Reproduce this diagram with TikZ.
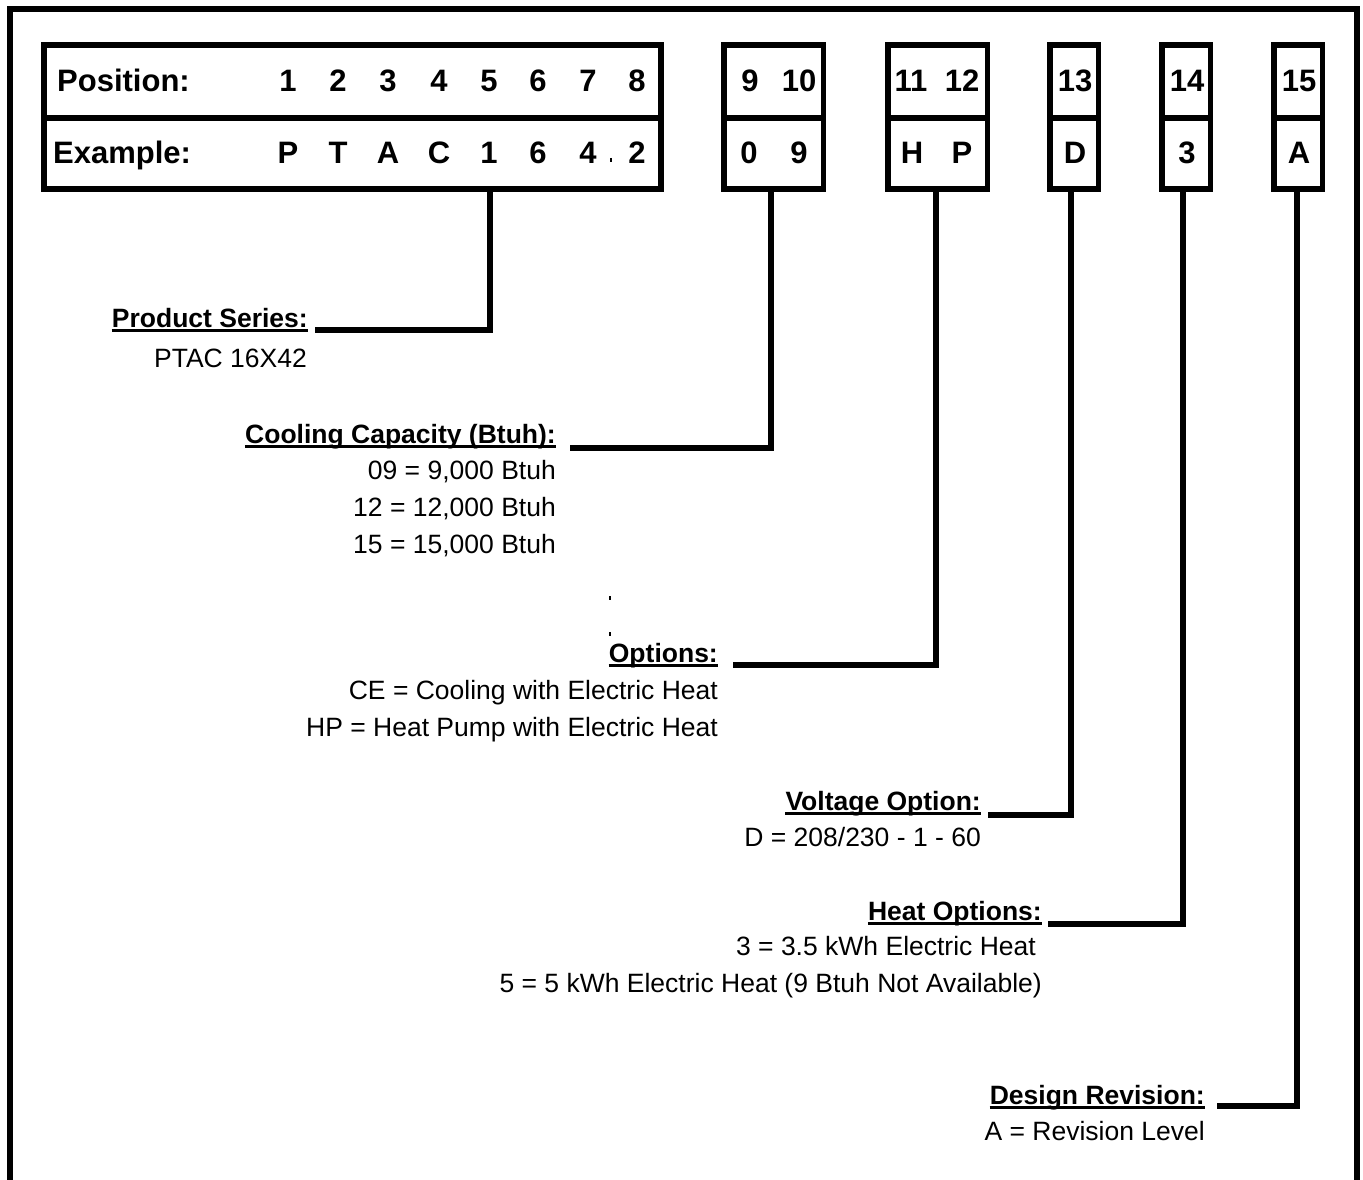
\documentclass[tikz,border=0pt]{standalone}
\usepackage{fontspec}
\setmainfont{Liberation Sans}
\begin{document}
\begin{tikzpicture}[x=1pt,y=-1pt,
  frame/.style={line width=5.5pt, line join=miter},
  cell/.style={draw, line width=5.5pt, inner sep=0pt, anchor=center, rectangle},
  big/.style={inner sep=0pt, font=\fontsize{31}{34}\selectfont\bfseries},
  lab/.style={inner sep=0pt, anchor=base east, font=\fontsize{26.5}{30}\selectfont\bfseries},
  sub/.style={inner sep=0pt, anchor=base east, font=\fontsize{26.5}{30}\selectfont},
  conn/.style={line width=5.5pt, line join=miter},
  ul/.style={line width=2.4pt},
  speck/.style={line width=1.6pt}]
\useasboundingbox (0,0) rectangle (1363,1180);
\fill[white] (0,0) rectangle (1363,1180);
\clip (0,0) rectangle (1363,1180);
% outer frame
\draw[frame] (10,1200) -- (10,9) -- (1357,9) -- (1357,1200);
% code boxes
\node[cell, minimum width=617pt, minimum height=73pt] (b1t) at (352.5,81.5) {};
\node[cell, minimum width=617pt, minimum height=71pt] (b1b) at (352.5,153.5) {};
\node[cell, minimum width=99.5pt, minimum height=73pt] (b2t) at (773.75,81.5) {};
\node[cell, minimum width=99.5pt, minimum height=71pt] (b2b) at (773.75,153.5) {};
\node[cell, minimum width=99.5pt, minimum height=73pt] (b3t) at (937.75,81.5) {};
\node[cell, minimum width=99.5pt, minimum height=71pt] (b3b) at (937.75,153.5) {};
\node[cell, minimum width=48.5pt, minimum height=73pt] (b4t) at (1074.25,81.5) {};
\node[cell, minimum width=48.5pt, minimum height=71pt] (b4b) at (1074.25,153.5) {};
\node[cell, minimum width=48.5pt, minimum height=73pt] (b5t) at (1186.25,81.5) {};
\node[cell, minimum width=48.5pt, minimum height=71pt] (b5b) at (1186.25,153.5) {};
\node[cell, minimum width=48.5pt, minimum height=73pt] (b6t) at (1298.25,81.5) {};
\node[cell, minimum width=48.5pt, minimum height=71pt] (b6b) at (1298.25,153.5) {};
% box texts
\node[big, anchor=base west] (pos) at (57,92) {Position:};
\node[big, anchor=base west] (ex) at (53,164) {Example:};
\foreach \t/\x [count=\i] in {1/288,2/338,3/388,4/439,5/489,6/538,7/588,8/637}
  \node[big, anchor=base] (p\i) at (\x,92) {\t};
\foreach \t/\x [count=\i] in {P/288,T/338,A/388,C/439,1/489,6/538,4/588,2/637}
  \node[big, anchor=base] (x\i) at (\x,164) {\t};
\node[big, anchor=base] (p9) at (750,92) {9};
\node[big, anchor=base] (p10) at (799,92) {10};
\node[big, anchor=base] (x9) at (749,164) {0};
\node[big, anchor=base] (x10) at (799,164) {9};
\node[big, anchor=base] (p11) at (911,92) {11};
\node[big, anchor=base] (p12) at (962,92) {12};
\node[big, anchor=base] (x11) at (912,164) {H};
\node[big, anchor=base] (x12) at (962,164) {P};
\node[big, anchor=base] (p13) at (1075,92) {13};
\node[big, anchor=base] (x13) at (1075,164) {D};
\node[big, anchor=base] (p14) at (1187,92) {14};
\node[big, anchor=base] (x14) at (1187,164) {3};
\node[big, anchor=base] (p15) at (1299,92) {15};
\node[big, anchor=base] (x15) at (1299,164) {A};
% small specks
\draw[speck] (611,158) -- (611,162);
\draw[speck] (610,596) -- (610,600);
\draw[speck] (610,632) -- (610,636);
% labels
\node[lab] (l1) at (308,327) {Product Series:};
\node[sub] (s11) at (307,367) {PTAC 16X42};
\node[lab] (l2) at (556,443) {Cooling Capacity (Btuh):};
\node[sub] (s21) at (556,479) {09 = 9,000 Btuh};
\node[sub] (s22) at (556,516) {12 = 12,000 Btuh};
\node[sub] (s23) at (556,553) {15 = 15,000 Btuh};
\node[lab] (l3) at (718,662) {Options:};
\node[sub] (s31) at (718,699) {CE = Cooling with Electric Heat};
\node[sub] (s32) at (718,736) {HP = Heat Pump with Electric Heat};
\node[lab] (l4) at (981,810) {Voltage Option:};
\node[sub] (s41) at (981,846) {D = 208/230 - 1 - 60};
\node[lab] (l5) at (1042,920) {Heat Options:};
\node[sub] (s51) at (1036,955) {3 = 3.5 kWh Electric Heat};
\node[sub] (s52) at (1042,992) {5 = 5 kWh Electric Heat (9 Btuh Not Available)};
\node[lab] (l6) at (1205,1104) {Design Revision:};
\node[sub] (s61) at (1205,1140) {A = Revision Level};
% underlines
\foreach \n in {l1,l2,l3,l4,l5,l6}
  \draw[ul] ([yshift=-3.5pt]\n.base west) -- ([yshift=-3.5pt]\n.base east);
% connectors
\coordinate (j1) at (490,330);  \coordinate (e1) at (315,330);
\coordinate (j2) at (771,448);  \coordinate (e2) at (570,448);
\coordinate (j3) at (936,665);  \coordinate (e3) at (733,665);
\coordinate (j4) at (1071,815); \coordinate (e4) at (988,815);
\coordinate (j5) at (1183,924); \coordinate (e5) at (1048,924);
\coordinate (j6) at (1297,1106); \coordinate (e6) at (1217,1106);
\draw[conn] (b1b.south -| j1) -- (j1) -- (e1);
\draw[conn] (b2b.south -| j2) -- (j2) -- (e2);
\draw[conn] (b3b.south -| j3) -- (j3) -- (e3);
\draw[conn] (b4b.south -| j4) -- (j4) -- (e4);
\draw[conn] (b5b.south -| j5) -- (j5) -- (e5);
\draw[conn] (b6b.south -| j6) -- (j6) -- (e6);
\end{tikzpicture}
\end{document}
